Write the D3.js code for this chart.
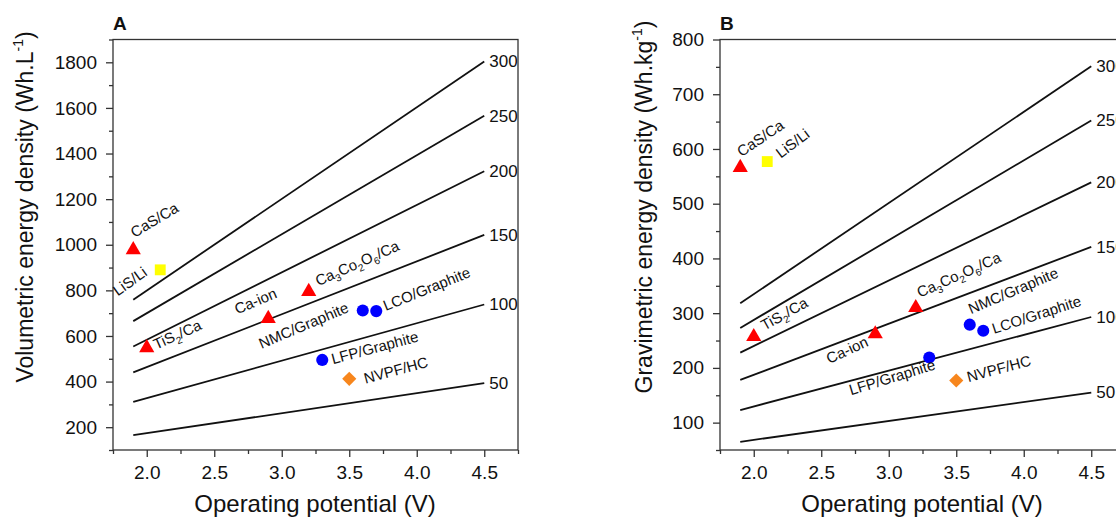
<!DOCTYPE html>
<html>
<head>
<meta charset="utf-8">
<script src="https://cdn.jsdelivr.net/npm/d3@7"></script>
<style>
  body { margin: 0; background: #fff; }
  svg { display: block; font-family: "Liberation Sans", Arial, sans-serif; }
  .tick text { fill: #111; }
</style>
</head>
<body>
<svg id="chart" width="1116" height="523"></svg>
<script>
// data
var cells = ["CaS/Ca", "LiS/Li", "TiS2/Ca", "Ca-ion", "Ca3Co2O6/Ca", "NMC/Graphite", "LCO/Graphite", "LFP/Graphite", "NVPF/HC"];
var family = ["Ca", "Li", "Ca", "Ca", "Ca", "Li-ion", "Li-ion", "Li-ion", "Na-ion"];
var potential = [1.9, 2.1, 2.0, 2.9, 3.2, 3.6, 3.7, 3.3, 3.5];
var volumetric = [978, 890, 548, 676, 795, 712, 709, 495, 412];
var gravimetric = [566, 577, 257, 262, 310, 279, 268, 219, 177];

// iso-capacity lines, from 1.9 V to 4.5 V
var capacities = [50, 100, 150, 200, 250, 300];
var linePotential = [1.9, 4.5];
var volStart = [165, 311, 440, 554, 665, 759];
var volEnd = [393, 738, 1043, 1322, 1566, 1804];
var gravStart = [65, 123, 178, 228, 273, 318];
var gravEnd = [155, 293, 421, 539, 652, 751];

var xTicks = [2.0, 2.5, 3.0, 3.5, 4.0, 4.5];
var xMinor = [1.75, 2.25, 2.75, 3.25, 3.75, 4.25, 4.75];
var volTicks = [200, 400, 600, 800, 1000, 1200, 1400, 1600, 1800];
var volMinor = [100, 300, 500, 700, 900, 1100, 1300, 1500, 1700, 1900];
var gravTicks = [100, 200, 300, 400, 500, 600, 700, 800];
var gravMinor = [50, 150, 250, 350, 450, 550, 650, 750];

// label placement (data coords + angle), per panel
var labelPosA = [[1.91, 1030, -31], [1.785, 773, -36], [2.07, 540, -24], [2.67, 694, -23], [3.27, 818, -24],
                 [2.85, 543, -23], [3.77, 709, -22], [3.38, 476, -15], [3.62, 391, -15]];
var labelPosB = [[1.91, 585, -34], [2.2, 582, -37], [2.08, 268, -29], [2.56, 207, -25], [3.23, 328, -24],
                 [3.61, 298, -23], [3.78, 262, -18], [2.72, 150, -17], [3.59, 174, -15]];

var markerStyle = {
  "Ca": {shape: d3.symbolTriangle, size: 100, fill: "#ff0000", rot: 0},
  "Li": {shape: d3.symbolSquare, size: 118, fill: "#ffff00", rot: 0},
  "Li-ion": {shape: d3.symbolCircle, size: 115, fill: "#0000ff", rot: 0},
  "Na-ion": {shape: d3.symbolSquare, size: 100, fill: "#f7861d", rot: 45}
};

var svg = d3.select("#chart");

function drawPanel(opt) {
  var x = d3.scaleLinear().domain([1.75, 4.75]).range([opt.left, opt.left + 405]);
  var y = d3.scaleLinear().domain(opt.yDomain).range([450, 39.5]);
  var g = svg.append("g");

  // iso lines
  capacities.forEach(function(c, i) {
    g.append("line")
      .attr("x1", x(linePotential[0])).attr("y1", y(opt.start[i]))
      .attr("x2", x(linePotential[1])).attr("y2", y(opt.end[i]))
      .attr("stroke", "#111").attr("stroke-width", 1.8);
    g.append("text")
      .attr("x", x(linePotential[1]) + 5).attr("y", y(opt.end[i]))
      .attr("dy", "0.35em").attr("font-size", 17).attr("fill", "#111")
      .text(c);
  });

  // frame
  g.append("rect")
    .attr("x", x(1.75)).attr("y", y(opt.yDomain[1]))
    .attr("width", x(4.75) - x(1.75)).attr("height", y(opt.yDomain[0]) - y(opt.yDomain[1]))
    .attr("fill", "none").attr("stroke", "#333").attr("stroke-width", 1.3);

  // axes
  var xa = g.append("g").attr("transform", "translate(0,450)")
    .call(d3.axisBottom(x).tickValues(xTicks).tickFormat(d3.format(".1f")).tickSize(7).tickPadding(9));
  var xm = g.append("g").attr("transform", "translate(0,450)")
    .call(d3.axisBottom(x).tickValues(xMinor).tickFormat("").tickSize(4));
  var ya = g.append("g").attr("transform", "translate(" + x(1.75) + ",0)")
    .call(d3.axisLeft(y).tickValues(opt.ticks).tickFormat(d3.format("d")).tickSize(7).tickPadding(9));
  var ym = g.append("g").attr("transform", "translate(" + x(1.75) + ",0)")
    .call(d3.axisLeft(y).tickValues(opt.minor).tickFormat("").tickSize(4));
  [xa, xm, ya, ym].forEach(function(a) {
    a.select(".domain").remove();
    a.selectAll("line").attr("stroke", "#333").attr("stroke-width", 1.3);
    a.selectAll("text").attr("font-size", 19).attr("font-family", "Liberation Sans, Arial, sans-serif");
  });

  // markers
  cells.forEach(function(name, i) {
    var st = markerStyle[family[i]];
    g.append("path")
      .attr("d", d3.symbol().type(st.shape).size(st.size)())
      .attr("transform", "translate(" + x(potential[i]) + "," + y(opt.values[i]) + ") rotate(" + st.rot + ")")
      .attr("fill", st.fill);
  });

  // point labels with subscripts
  cells.forEach(function(name, i) {
    var p = opt.labels[i];
    var t = g.append("text")
      .attr("transform", "translate(" + x(p[0]) + "," + y(p[1]) + ") rotate(" + p[2] + ")")
      .attr("font-size", 15).attr("fill", "#111");
    var parts = name.split(/(\d)/);
    parts.forEach(function(s) {
      if (s === "") return;
      if (/^\d$/.test(s)) {
        t.append("tspan").attr("font-size", 10).attr("dy", 4).text(s);
      } else {
        var ts = t.append("tspan").text(s);
        if (t.node().childNodes.length > 1) ts.attr("dy", -4);
      }
    });
  });

  // panel letter
  svg.append("text").attr("x", opt.left).attr("y", 30)
    .attr("font-size", 19).attr("font-weight", "bold").attr("fill", "#111").text(opt.letter);

  // axis titles
  svg.append("text").attr("x", opt.left + 202).attr("y", 512)
    .attr("text-anchor", "middle").attr("font-size", 24).attr("fill", "#111")
    .text("Operating potential (V)");
  var yt = svg.append("text")
    .attr("transform", "translate(" + opt.titleX + ",207) rotate(-90)")
    .attr("text-anchor", "middle").attr("font-size", 23).attr("fill", "#111");
  yt.append("tspan").text(opt.yTitle);
  yt.append("tspan").attr("font-size", 14).attr("dy", -10).text("-1");
  yt.append("tspan").attr("dy", 10).text(")");
}

drawPanel({
  letter: "A", left: 113, yDomain: [100, 1900], ticks: volTicks, minor: volMinor,
  start: volStart, end: volEnd, values: volumetric, labels: labelPosA,
  titleX: 33, yTitle: "Volumetric energy density (Wh.L"
});
drawPanel({
  letter: "B", left: 720, yDomain: [50, 800], ticks: gravTicks, minor: gravMinor,
  start: gravStart, end: gravEnd, values: gravimetric, labels: labelPosB,
  titleX: 652, yTitle: "Gravimetric energy density (Wh.kg"
});
</script>
</body>
</html>
